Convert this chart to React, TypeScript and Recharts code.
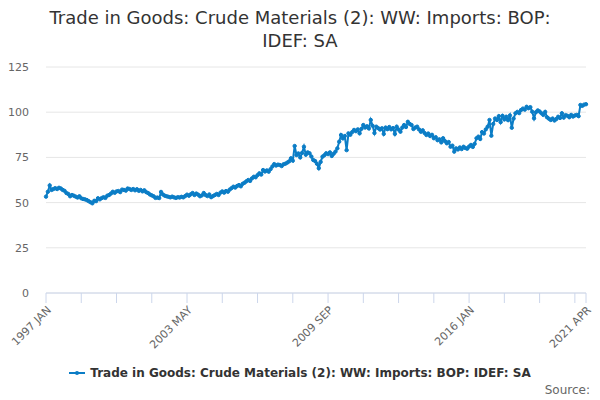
import React from 'react';
import { LineChart, Line, XAxis, YAxis, CartesianGrid } from 'recharts';

const MONTHS = ['JAN', 'FEB', 'MAR', 'APR', 'MAY', 'JUN', 'JUL', 'AUG', 'SEP', 'OCT', 'NOV', 'DEC'];
const START_YEAR = 1997;

// monthly index values per year
const Y1997 = [53.3, 56, 59.5, 57, 57.5, 58, 57.5, 58.2, 57.8, 57, 56.5, 55.3];
const Y1998 = [54.8, 53.5, 54.2, 53.8, 53.3, 52.8, 53.5, 52.4, 52, 51.8, 51.4, 50.8];
const Y1999 = [50.2, 49.6, 51, 50.8, 52.4, 51.8, 52.5, 53, 52.6, 53.8, 54.2, 55];
const Y2000 = [56, 55.4, 56.2, 56.4, 55.8, 57.2, 57, 56.6, 57.8, 57.5, 57, 57.5];
const Y2001 = [56.8, 57.4, 56.5, 57, 56.2, 56.8, 55.8, 55.3, 54.5, 54, 53.5, 52.6];
const Y2002 = [52.8, 52.5, 55.9, 54.5, 53.8, 53.5, 53.2, 52.9, 53.3, 52.9, 52.6, 53];
const Y2003 = [52.8, 53.2, 52.9, 53.6, 54.4, 53.8, 54.6, 55.3, 54.2, 55, 54.4, 53.5];
const Y2004 = [54, 55.3, 54.2, 53.6, 54.5, 53, 53.6, 54.2, 54.8, 54.2, 55.5, 56.2];
const Y2005 = [55.5, 56.4, 56, 57.2, 58, 58.8, 58.3, 59.2, 59.7, 59, 60.4, 61];
const Y2006 = [61.8, 62.5, 62, 63.4, 64.3, 64, 65.2, 66.2, 65.5, 68, 67.2, 67.8];
const Y2007 = [67.1, 68.5, 70, 71.3, 70.5, 71, 70.8, 70.2, 71.2, 71.5, 72.1, 72.8];
const Y2008 = [74.5, 73.2, 81.3, 76.3, 77.2, 75, 77.5, 80.9, 76.5, 77.8, 77.3, 75.5];
const Y2009 = [73.6, 73, 71.5, 69, 72.5, 75.4, 76.2, 77.3, 76.8, 77.8, 75.8, 77];
const Y2010 = [78.2, 80, 83.7, 87.4, 85.5, 86.8, 79, 88.3, 87.5, 89, 90.2, 89.5];
const Y2011 = [90.5, 88.3, 90.8, 92.9, 91.5, 92.2, 91, 95.7, 92.5, 88.5, 92, 91.2];
const Y2012 = [90.4, 91.1, 88, 91.5, 90.6, 91.8, 90.5, 91.2, 88, 92, 90.4, 89.2];
const Y2013 = [91.5, 92.9, 91.8, 94.7, 93.5, 92.9, 90.7, 91.5, 92, 90.5, 89.2, 90];
const Y2014 = [88.5, 87.4, 88.2, 86.8, 87.5, 85.6, 86.2, 84.5, 85, 83.3, 85.6, 84];
const Y2015 = [82.8, 83.5, 80.9, 81.5, 78.2, 80, 79.4, 80.5, 79.6, 80.9, 80.2, 79.8];
const Y2016 = [81, 81.9, 80.8, 82.5, 85.6, 86.5, 85.2, 89, 88.2, 90.5, 92, 95.7];
const Y2017 = [87, 93.5, 96.5, 95.7, 97.8, 94.5, 98, 96, 97.5, 95.6, 98.2, 91.4];
const Y2018 = [96.5, 99.4, 100.2, 99.5, 101.2, 102, 101.4, 103, 102.2, 102.8, 100.3, 96.6];
const Y2019 = [100, 101, 100.4, 99.4, 98.5, 100.2, 97.2, 96.4, 95.7, 96.5, 95.4, 96.2];
const Y2020 = [97.5, 96.8, 99.4, 97, 98.4, 98, 97.2, 98.5, 97.6, 98.2, 98.5, 97.8];
const Y2021 = [104, 103.5, 104.2, 104.4];

const VALUES = [
  ...Y1997, ...Y1998, ...Y1999, ...Y2000, ...Y2001, ...Y2002, ...Y2003, ...Y2004,
  ...Y2005, ...Y2006, ...Y2007, ...Y2008, ...Y2009, ...Y2010, ...Y2011, ...Y2012,
  ...Y2013, ...Y2014, ...Y2015, ...Y2016, ...Y2017, ...Y2018, ...Y2019, ...Y2020,
  ...Y2021,
];

const Y_TICKS = [0, 25, 50, 75, 100, 125];
const TICK_INDEX = [0, 19, 38, 57, 76, 95, 114, 133, 152, 171, 190, 209, 228, 247, 266, 285, 291];
const LABEL_INDEX = [0, 76, 152, 228, 291];

const SERIES_NAME = 'Trade in Goods: Crude Materials (2): WW: Imports: BOP: IDEF: SA';
const COLOR = '#0b7dc6';
const FONT = '"DejaVu Sans", Verdana, sans-serif';

const data = VALUES.map((v, i) => ({
  date: `${START_YEAR + Math.floor(i / 12)} ${MONTHS[i % 12]}`,
  value: v,
}));

const xTicks = TICK_INDEX.map((i) => data[i].date);
const labelSet = new Set(LABEL_INDEX.map((i) => data[i].date));

const XTick = (props: any) => {
  const { x, y, payload } = props;
  if (!labelSet.has(payload.value)) return null;
  return (
    <g transform={`translate(${x + 3},${y + 1})`}>
      <text
        textAnchor="end"
        transform="rotate(-45)"
        fill="#666666"
        fontSize={11}
        fontFamily={FONT}
        dy="0.35em"
      >
        {payload.value}
      </text>
    </g>
  );
};

export default function App() {
  return (
    <div style={{ position: 'absolute', left: 0, top: 0, width: 600, height: 400, background: '#fff', fontFamily: FONT }}>
      <div style={{ position: 'absolute', top: 6, left: 0, width: 600, textAlign: 'center', fontSize: 18, lineHeight: '23px', color: '#333333' }}>
        <div>Trade in Goods: Crude Materials (2): WW: Imports: BOP:</div>
        <div>IDEF: SA</div>
      </div>
      <LineChart width={600} height={400} data={data} margin={{ top: 67, right: 14, bottom: 77, left: 0 }}>
        <CartesianGrid vertical={false} stroke="#e6e6e6" />
        <XAxis
          dataKey="date"
          ticks={xTicks}
          interval={0}
          height={30}
          stroke="#ccd6eb"
          tickLine={{ stroke: '#ccd6eb' }}
          tickSize={10}
          tickMargin={4}
          tick={<XTick />}
        />
        <YAxis
          width={46}
          domain={[0, 125]}
          ticks={Y_TICKS}
          axisLine={false}
          tickLine={false}
          tickSize={0}
          tickMargin={17}
          tick={{ fill: '#666666', fontSize: 11, fontFamily: FONT }}
        />
        <Line
          type="linear"
          dataKey="value"
          name={SERIES_NAME}
          stroke={COLOR}
          strokeWidth={2}
          dot={{ r: 1.7, fill: COLOR, stroke: COLOR, strokeWidth: 1 }}
          isAnimationActive={false}
        />
      </LineChart>
      <div style={{ position: 'absolute', top: 366, left: 0, width: 600, display: 'flex', justifyContent: 'center', alignItems: 'center' }}>
        <svg width={16} height={12} style={{ marginRight: 5 }}>
          <line x1={0} y1={6} x2={16} y2={6} stroke={COLOR} strokeWidth={2} />
          <circle cx={8} cy={6} r={2} fill={COLOR} />
        </svg>
        <span style={{ fontSize: 12, fontWeight: 'bold', color: '#333333' }}>{SERIES_NAME}</span>
      </div>
      <div style={{ position: 'absolute', top: 383, right: 10, fontSize: 12, color: '#666666' }}>Source:</div>
    </div>
  );
}
